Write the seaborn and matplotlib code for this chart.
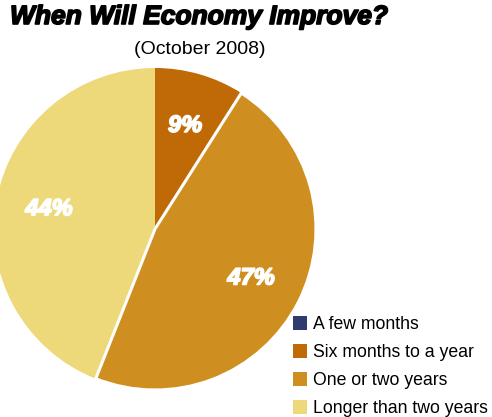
import matplotlib
matplotlib.use("Agg")
import matplotlib.pyplot as plt
import matplotlib.patches as mpatches
import matplotlib.patheffects as pe
import seaborn as sns

categories = ["A few months", "Six months to a year", "One or two years", "Longer than two years"]
values = [0, 9, 47, 44]
colors_hex = ["#2F3A6E", "#BF6A06", "#CF8F20", "#EDD97A"]
title = "When Will Economy Improve?"
subtitle = "(October 2008)"

sns.set_theme(style="white")
plt.rcParams['font.family'] = ['Liberation Sans', 'DejaVu Sans']
palette = sns.color_palette(colors_hex)

fig = plt.figure(figsize=(4.92, 4.17), dpi=100)
W, H = 492, 417
cx, cy, r = 155, 229, 161
ax = fig.add_axes([(cx - r) / W, (H - cy - r) / H, 2 * r / W, 2 * r / H])

def fmt(p):
    return f"{p:.0f}%" if p > 0.5 else ""

wedges, texts, autotexts = ax.pie(
    values, colors=palette, startangle=90, counterclock=False,
    autopct=fmt, pctdistance=0.67, radius=1,
    wedgeprops=dict(linewidth=0),
    textprops=dict(color="white", fontsize=17, fontweight="bold", fontstyle="italic"),
)
wedges[2].set_edgecolor("white")
wedges[2].set_linewidth(2.2)
wedges[2].set_zorder(5)
for t in autotexts:
    t.set_zorder(10)
    t.set_path_effects([pe.withStroke(linewidth=1.2, foreground="white")])
ax.set_xlim(-1, 1)
ax.set_ylim(-1, 1)
ax.set_aspect("auto")
ax.axis("off")

fig.text(10 / W, 1 - 17 / H, title, fontsize=19, fontweight="bold", fontstyle="italic",
         ha="left", va="center", color="black",
         path_effects=[pe.withStroke(linewidth=1.2, foreground="black")])
fig.text(200 / W, 1 - 50 / H, subtitle, fontsize=14, ha="center", va="center", color="black")

handles = [mpatches.Patch(facecolor=c, edgecolor="none") for c in palette]
fig.legend(handles, categories, loc="lower left", bbox_to_anchor=(293 / W, 0.0),
           frameon=False, fontsize=12.7, handlelength=0.8, handleheight=0.8,
           handletextpad=0.35, labelspacing=0.62, borderpad=0, borderaxespad=0,
           labelcolor="black")

fig.savefig("out.png", dpi=100)
